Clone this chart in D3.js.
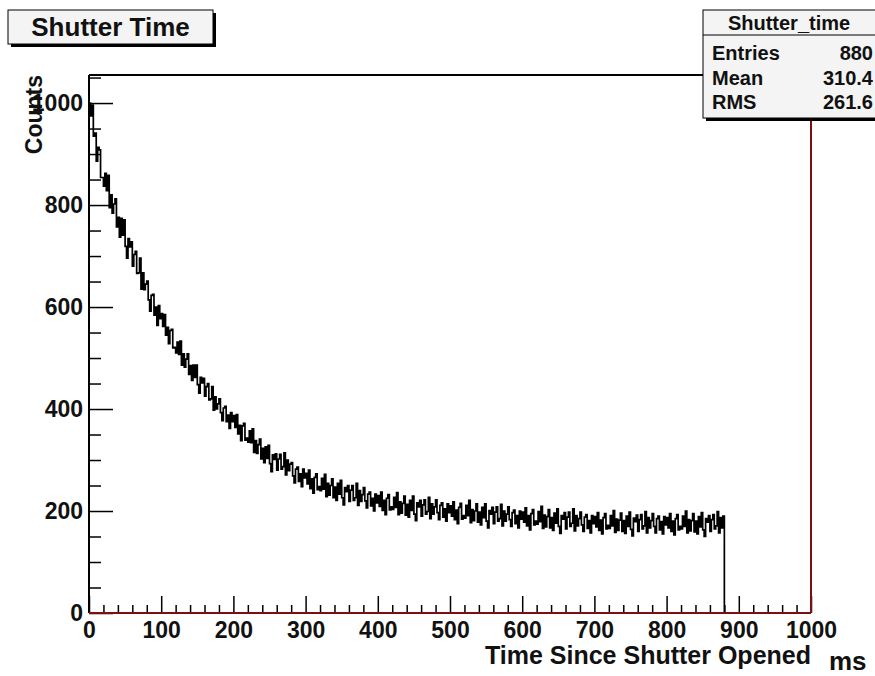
<!DOCTYPE html>
<html>
<head>
<meta charset="utf-8">
<script src="https://cdn.jsdelivr.net/npm/d3@7"></script>
<style>
  html, body { margin: 0; padding: 0; background: #fff; }
  svg { display: block; font-family: 'Liberation Sans', Arial, sans-serif; font-weight: bold; }
</style>
</head>
<body>
<div id="chart"></div>
<script>
// histogram bins: 2 ms wide, starting at 0 ms, last bin ends at 880 ms
const binWidth = 2
const binStart = 0
const counts = [
  1000, 975, 996, 935, 941, 886, 913, 908, 854, 854,
  837, 862, 828, 858, 795, 820, 784, 802, 812, 757,
  776, 737, 774, 741, 771, 719, 696, 734, 718, 728,
  680, 703, 709, 666, 667, 696, 635, 667, 634, 645,
  651, 614, 592, 623, 625, 584, 600, 564, 603, 577,
  587, 562, 585, 545, 560, 528, 554, 556, 520, 521,
  510, 531, 507, 533, 486, 508, 482, 498, 508, 468,
  485, 456, 486, 462, 486, 448, 431, 462, 451, 460,
  425, 444, 450, 418, 420, 444, 398, 424, 400, 410,
  420, 393, 377, 402, 405, 375, 388, 362, 393, 375,
  387, 364, 389, 351, 368, 338, 367, 372, 339, 343,
  335, 357, 334, 361, 315, 338, 313, 330, 341, 302,
  323, 295, 326, 303, 329, 293, 277, 310, 301, 312,
  280, 302, 311, 282, 287, 314, 271, 300, 279, 292,
  295, 269, 255, 282, 286, 258, 273, 248, 282, 265,
  274, 253, 280, 244, 263, 235, 266, 273, 242, 248,
  240, 264, 243, 272, 228, 254, 231, 250, 263, 226,
  247, 221, 254, 233, 260, 226, 212, 246, 238, 250,
  219, 241, 250, 221, 226, 254, 211, 240, 219, 232,
  246, 220, 206, 233, 237, 210, 225, 200, 233, 216,
  230, 209, 237, 201, 221, 193, 225, 232, 202, 208,
  203, 227, 207, 236, 193, 218, 196, 215, 229, 192,
  213, 188, 221, 201, 229, 194, 181, 216, 208, 221,
  190, 212, 222, 194, 199, 227, 185, 214, 194, 208,
  222, 197, 183, 211, 216, 188, 204, 180, 214, 197,
  210, 190, 218, 183, 202, 175, 207, 215, 184, 191,
  186, 211, 191, 221, 177, 203, 181, 200, 214, 178,
  198, 173, 207, 187, 214, 180, 167, 201, 194, 207,
  175, 198, 208, 180, 185, 213, 171, 200, 180, 194,
  208, 183, 170, 197, 202, 175, 191, 167, 200, 184,
  198, 178, 206, 171, 191, 163, 195, 203, 173, 180,
  174, 199, 179, 209, 166, 192, 169, 189, 203, 167,
  187, 162, 196, 176, 204, 170, 156, 191, 184, 197,
  165, 188, 198, 170, 176, 204, 161, 191, 171, 185,
  198, 173, 160, 188, 193, 166, 181, 157, 191, 175,
  189, 169, 197, 162, 182, 155, 187, 195, 165, 172,
  166, 191, 171, 201, 158, 184, 162, 182, 196, 160,
  181, 156, 190, 170, 198, 164, 151, 186, 179, 192,
  160, 183, 193, 165, 171, 199, 157, 187, 167, 181,
  195, 170, 157, 185, 190, 163, 179, 155, 189, 173,
  187, 167, 195, 160, 180, 153, 185, 193, 163, 170,
  165, 190, 170, 200, 157, 183, 161, 181, 195, 159,
  180, 155, 189, 169, 197, 163, 150, 185, 178, 191,
  160, 183, 193, 165, 171, 199, 157, 187, 167, 190
]

const xMajorTicks = [0, 100, 200, 300, 400, 500, 600, 700, 800, 900, 1000]
const yMajorTicks = [0, 200, 400, 600, 800, 1000]
const xDomain = [0, 1000]
const yDomain = [0, 1055]

const titleText = 'Shutter Time'
const statsName = 'Shutter_time'
const statsLabels = ['Entries', 'Mean', 'RMS']
const statsValues = ['880', '310.4', '261.6']
const xTitle = 'Time Since Shutter Opened'
const xUnit = 'ms'
const yTitle = 'Counts'

const width = 875
const height = 676
const margin = { top: 75, right: 64, bottom: 63, left: 89 }
const frameRed = '#7a1010'
const fontFam = 'Liberation Sans, Arial, sans-serif'

const svg = d3.select('#chart').append('svg').attr('width', width).attr('height', height)
svg.append('rect').attr('width', width).attr('height', height).attr('fill', '#fff')

const x = d3.scaleLinear().domain(xDomain).range([margin.left, width - margin.right])
const y = d3.scaleLinear().domain(yDomain).range([height - margin.bottom, margin.top])

// histogram as a step line
const pts = counts.map((c, i) => [binStart + i * binWidth, c])
const xEnd = binStart + counts.length * binWidth
pts.unshift([binStart, 0])
pts.push([xEnd, counts[counts.length - 1]])
pts.push([xEnd, 0])
const line = d3.line().x((d) => x(d[0])).y((d) => y(d[1])).curve(d3.curveStepAfter)
svg.append('path')
  .attr('d', line(pts))
  .attr('fill', 'none')
  .attr('stroke', '#000')
  .attr('stroke-width', 1.7)

// minor y ticks (every 50)
const yMinor = d3.range(0, yDomain[1] + 1, 50).filter((v) => v % 200 !== 0)
svg.append('g')
  .attr('transform', `translate(${x(0)},0)`)
  .call(d3.axisLeft(y).tickValues(yMinor).tickSize(-12).tickFormat(''))
  .call((g) => {
    g.select('.domain').remove()
    g.selectAll('.tick line').attr('stroke', '#000').attr('stroke-width', 1.5)
  })

// major y ticks + labels
svg.append('g')
  .attr('class', 'y-axis')
  .attr('transform', `translate(${x(0)},0)`)
  .call(d3.axisLeft(y).tickValues(yMajorTicks).tickSize(-24).tickPadding(6).tickFormat(d3.format('d')))
  .call((g) => {
    g.select('.domain').remove()
    g.selectAll('.tick line').attr('stroke', '#000').attr('stroke-width', 1.5)
    g.selectAll('.tick text')
      .attr('fill', '#111')
      .attr('font-size', '23px')
      .attr('font-family', fontFam)
      .attr('font-weight', 'bold')
  })

// minor x ticks (every 20)
const xMinor = d3.range(0, 1001, 20).filter((v) => v % 100 !== 0)
svg.append('g')
  .attr('transform', `translate(0,${y(0)})`)
  .call(d3.axisBottom(x).tickValues(xMinor).tickSize(-8).tickFormat(''))
  .call((g) => {
    g.select('.domain').remove()
    g.selectAll('.tick line').attr('stroke', '#000').attr('stroke-width', 1.5)
  })

// major x ticks + labels
svg.append('g')
  .attr('class', 'x-axis')
  .attr('transform', `translate(0,${y(0)})`)
  .call(d3.axisBottom(x).tickValues(xMajorTicks).tickSize(-17).tickPadding(9).tickFormat(d3.format('d')))
  .call((g) => {
    g.select('.domain').remove()
    g.selectAll('.tick line').attr('stroke', '#000').attr('stroke-width', 1.5)
    g.selectAll('.tick text')
      .attr('fill', '#111')
      .attr('font-size', '23px')
      .attr('font-family', fontFam)
      .attr('font-weight', 'bold')
  })

// frame borders: top/left black, right/bottom dark red
const fx0 = x(0), fx1 = x(1000), fy0 = y(yDomain[1]), fy1 = y(0)
svg.append('line').attr('x1', fx0).attr('x2', fx1).attr('y1', fy0).attr('y2', fy0).attr('stroke', '#000').attr('stroke-width', 2)
svg.append('line').attr('x1', fx0).attr('x2', fx0).attr('y1', fy0).attr('y2', fy1).attr('stroke', '#000').attr('stroke-width', 2)
svg.append('line').attr('x1', fx1).attr('x2', fx1).attr('y1', fy0).attr('y2', fy1).attr('stroke', frameRed).attr('stroke-width', 2)
svg.append('line').attr('x1', fx0).attr('x2', fx1).attr('y1', fy1).attr('y2', fy1).attr('stroke', frameRed).attr('stroke-width', 2)

// axis titles
svg.append('text')
  .attr('x', fx1).attr('y', 664)
  .attr('text-anchor', 'end')
  .attr('font-size', '25px')
  .attr('fill', '#111')
  .text(xTitle)
svg.append('text')
  .attr('x', 829).attr('y', 670)
  .attr('font-size', '26px')
  .attr('fill', '#111')
  .text(xUnit)
svg.append('text')
  .attr('transform', `translate(42,${fy0}) rotate(-90)`)
  .attr('text-anchor', 'end')
  .attr('font-size', '23px')
  .attr('fill', '#111')
  .text(yTitle)

// title box with shadow
const tb = { x: 8, y: 10, w: 205, h: 34 }
svg.append('rect').attr('x', tb.x + 3).attr('y', tb.y + 3).attr('width', tb.w).attr('height', tb.h).attr('fill', '#000')
svg.append('rect').attr('x', tb.x).attr('y', tb.y).attr('width', tb.w).attr('height', tb.h)
  .attr('fill', '#f4f4f4').attr('stroke', '#000').attr('stroke-width', 1)
svg.append('text')
  .attr('x', tb.x + tb.w / 2).attr('y', 36)
  .attr('text-anchor', 'middle')
  .attr('font-size', '26px')
  .attr('fill', '#111')
  .text(titleText)

// stats box
const sb = { x: 703, y: 10, w: 190, h: 108 }
svg.append('rect').attr('x', sb.x + 3).attr('y', sb.y + 3).attr('width', sb.w).attr('height', sb.h).attr('fill', '#000')
svg.append('rect').attr('x', sb.x).attr('y', sb.y).attr('width', sb.w).attr('height', sb.h)
  .attr('fill', '#f4f4f4').attr('stroke', '#000').attr('stroke-width', 1)
svg.append('line').attr('x1', sb.x).attr('x2', width).attr('y1', 35).attr('y2', 35).attr('stroke', '#000')
svg.append('text')
  .attr('x', 789).attr('y', 30)
  .attr('text-anchor', 'middle')
  .attr('font-size', '20px')
  .attr('fill', '#111')
  .text(statsName)
const rowY = [60, 85, 109]
statsLabels.forEach((lab, i) => {
  svg.append('text').attr('x', 712).attr('y', rowY[i]).attr('font-size', '20px').attr('fill', '#111').text(lab)
  svg.append('text').attr('x', 873).attr('y', rowY[i]).attr('text-anchor', 'end').attr('font-size', '20px').attr('fill', '#111').text(statsValues[i])
})
</script>
</body>
</html>
